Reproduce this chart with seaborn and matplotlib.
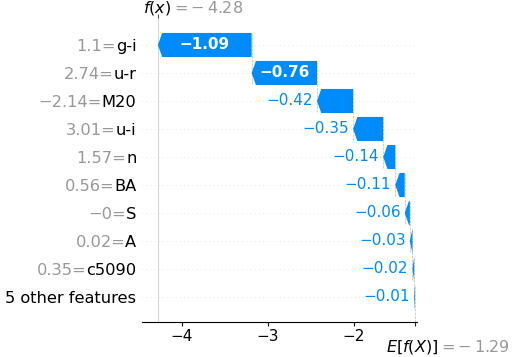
import matplotlib.pyplot as plt
import numpy as np
import seaborn as sns

# SHAP waterfall data (top row first)
features = ["g-i", "u-r", "M20", "u-i", "n", "BA", "S", "A", "c5090", "5 other features"]
feature_values = ["1.1", "2.74", "\u22122.14", "3.01", "1.57", "0.56", "\u22120", "0.02", "0.35", None]
shap_values = [-1.09, -0.76, -0.42, -0.35, -0.14, -0.11, -0.06, -0.03, -0.02, -0.01]
base_value = -1.29
fx_value = -4.28
x_ticks = [-4, -3, -2]

BLUE = "#008bfb"
GRAY = "#999999"


def fmt(v):
    return f"{v:.2f}".replace("-", "\u2212")


def math_label(v):
    # "= − 4.28" with spacing around the minus as in the original
    s = f"{abs(v):.2f}"
    return "$= -\\:" + s + "$" if v < 0 else "$= " + s + "$"


sns.set_theme(style="ticks")
plt.rcParams["font.family"] = ["DejaVu Sans"]

fig = plt.figure(figsize=(5.15, 3.57), dpi=100)
ax = fig.add_axes([142 / 515, 35 / 357, 275 / 515, 304 / 357])
ax.set_xlim(-4.465, -1.267)
ax.set_ylim(-0.893, 9.964)

n = len(features)
ypos = np.arange(n)[::-1]
bar_h = 0.86
head = 0.05

# background guides
for y in ypos:
    ax.axhline(y, color="#cccccc", lw=0.5, dashes=(1, 5), zorder=-1)
ax.axvline(fx_value, color="#d8d8d8", lw=0.8, zorder=-1)
ax.axvline(base_value, 0, 1.3 / 10.857, color="#bbbbbb", lw=0.5, ls="--", zorder=-1)

fig.canvas.draw()
renderer = fig.canvas.get_renderer()

start = base_value
ends = {}
for i in range(n - 1, -1, -1):
    v = shap_values[i]
    y = ypos[i]
    end = start + v
    ends[i] = (start, end)
    ax.arrow(start, y, v, 0, width=bar_h, head_width=bar_h,
             head_length=min(head, abs(v)), length_includes_head=True,
             facecolor=BLUE, edgecolor="none", zorder=3)
    # value label: inside if it fits, otherwise to the left of the tip
    txt = ax.text((start + end) / 2, y, fmt(v), color="white", fontsize=11,
                  fontweight="bold", ha="center", va="center", zorder=4)
    tw = txt.get_window_extent(renderer).width
    bw = abs(ax.transData.transform((start, 0))[0] - ax.transData.transform((end, 0))[0])
    if tw + 8 > bw:
        txt.remove()
        ax.annotate(fmt(v), (end, y), xytext=(-3, 0), textcoords="offset points",
                    color=BLUE, fontsize=11, ha="right", va="center", zorder=4)
    start = end

# connectors between consecutive bars
for i in range(n - 1):
    x = ends[i][0]
    ax.plot([x, x], [ypos[i + 1] - 0.4, ypos[i] + 0.4], color="#bbbbbb",
            ls="--", lw=0.5, zorder=-1)

# y labels: black feature name, gray "value=" to its left
ax.set_yticks(ypos)
ax.set_yticklabels(features, fontsize=11.7, color="black")
ax.tick_params(axis="y", length=0, pad=4)

ax.set_xticks(x_ticks)
ax.set_xticklabels([fmt(t).replace(".00", "") for t in x_ticks], fontsize=11)
ax.tick_params(axis="x", length=3, width=0.8, pad=2, colors="black")
sns.despine(ax=ax, left=True, top=True, right=True)
ax.spines["bottom"].set_linewidth(0.8)
ax.spines["bottom"].set_color("black")

fig.canvas.draw()
inv = fig.transFigure.inverted()
for lab, fv in zip(ax.get_yticklabels(), feature_values):
    if fv is None:
        continue
    bb = lab.get_window_extent(renderer)
    x0, _ = inv.transform((bb.x0, bb.y0))
    _, yc = inv.transform((bb.x0, (bb.y0 + bb.y1) / 2))
    fig.text(x0, yc, fv + "=", color=GRAY, fontsize=11.7, ha="right", va="center")

# f(x) and E[f(X)] markers
top = ax.twiny()
top.set_xlim(ax.get_xlim())
top.set_xticks([fx_value])
top.set_xticklabels([""])
top.tick_params(axis="x", length=3, width=0.8, colors="#555555")
sns.despine(ax=top, left=True, bottom=True, right=True, top=True)
ax.set_xticks([base_value], minor=True)
ax.tick_params(axis="x", which="minor", bottom=True, length=3, width=0.8)

ax.annotate("$f(x)$", (fx_value, 1), xycoords=("data", "axes fraction"),
            xytext=(9.4, 7.2), textcoords="offset points", ha="right",
            va="center", fontsize=11.5, color="black")
ax.annotate(math_label(fx_value), (fx_value, 1),
            xycoords=("data", "axes fraction"), xytext=(9.4, 7.2),
            textcoords="offset points", ha="left", va="center",
            fontsize=11.5, color=GRAY)
ax.annotate("$E[f(X)]$", (base_value, 0), xycoords=("data", "axes fraction"),
            xytext=(16.6, -18), textcoords="offset points", ha="right",
            va="center", fontsize=11.5, color="black")
ax.annotate(math_label(base_value), (base_value, 0),
            xycoords=("data", "axes fraction"), xytext=(16.6, -18),
            textcoords="offset points", ha="left", va="center",
            fontsize=11.5, color=GRAY)

fig.savefig("out.png", dpi=100)
